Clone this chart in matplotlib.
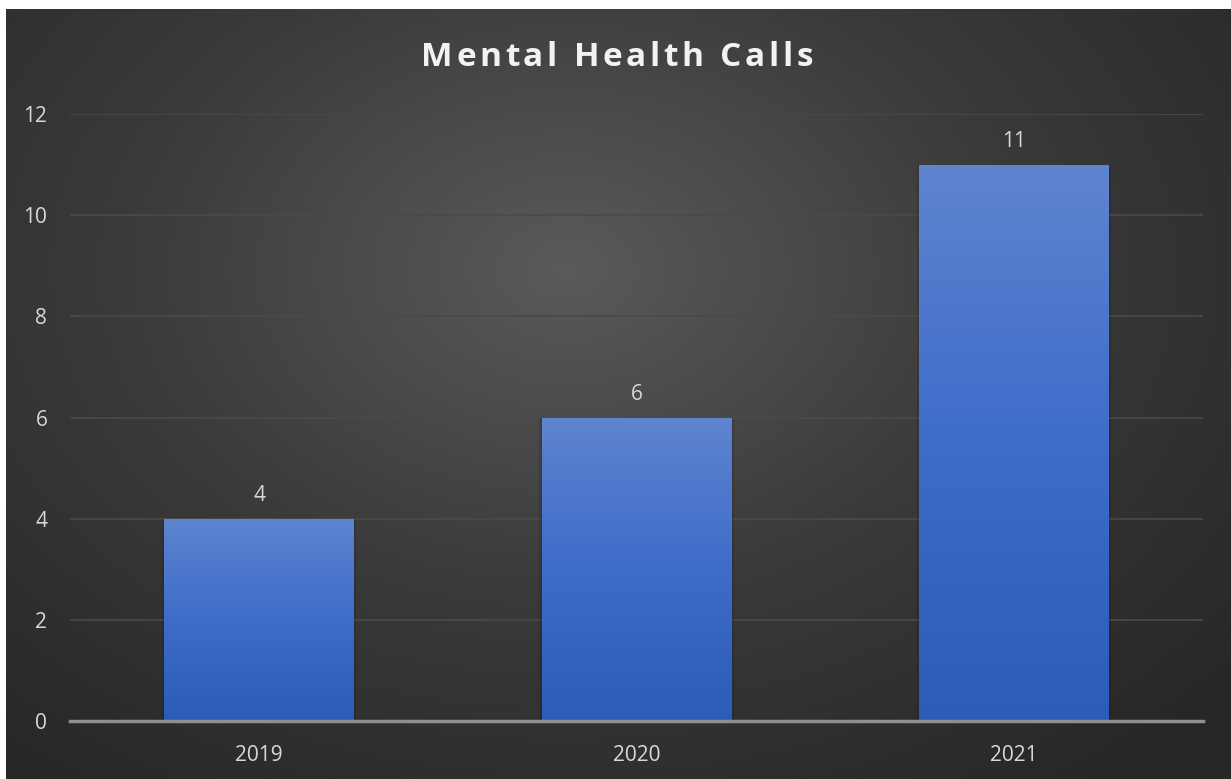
import numpy as np
import matplotlib.pyplot as plt
from matplotlib.colors import LinearSegmentedColormap

years = ["2019", "2020", "2021"]
calls = [4, 6, 11]
y_ticks = [0, 2, 4, 6, 8, 10, 12]
title = "Mental Health Calls"

W, H = 1231, 779
fig = plt.figure(figsize=(W / 100, H / 100), dpi=100, facecolor="white")

# dark radial background of the chart area
bg = fig.add_axes([6 / W, 0, (W - 6) / W, (H - 9) / H])
bg.set_axis_off()
yy, xx = np.mgrid[0:770, 0:1225]
r = np.sqrt(((xx - 560) / 900) ** 2 + ((yy - 260) / 650) ** 2)
bg_cmap = LinearSegmentedColormap.from_list("bg", ["#5a5a5a", "#3a3a3a", "#262626"])
bg.imshow(np.clip(r, 0, 1), cmap=bg_cmap, vmin=0, vmax=1, aspect="auto",
          extent=[0, 1, 0, 1], origin="upper")
bg.set_xlim(0, 1)
bg.set_ylim(0, 1)

ax = fig.add_axes([70.25 / W, (H - 721) / H, (1202.75 - 70.25) / W, (721 - 114) / H])
ax.patch.set_alpha(0)

x = np.arange(len(years))
bars = ax.bar(x, calls, width=0.503, color="none", zorder=3)

bar_cmap = LinearSegmentedColormap.from_list("bar", ["#2b5cb8", "#3d6cc9", "#5f84d0"])
grad = np.linspace(0, 1, 256).reshape(-1, 1)
for b in bars:
    x0, y0 = b.get_x(), b.get_y()
    w, h = b.get_width(), b.get_height()
    # soft shadow
    ax.bar(x0 + w / 2, h, width=w + 0.012, color="black", alpha=0.12, zorder=2)
    im = ax.imshow(grad, cmap=bar_cmap, origin="lower", aspect="auto",
                   extent=[x0, x0 + w, y0, y0 + h], zorder=3)
    im.set_clip_path(b)
    ax.annotate(str(int(h)), (x0 + w / 2, h), xytext=(0, 9), textcoords="offset points",
                ha="center", va="bottom", color="#d9d9d9", fontsize=15, family="Open Sans")

ax.set_xlim(-0.5, len(years) - 0.5)
ax.set_ylim(0, 12)
ax.set_yticks(y_ticks)
ax.set_yticklabels([str(t) for t in y_ticks])
ax.set_xticks(x)
ax.set_xticklabels(years)
ax.tick_params(axis="both", length=0, colors="#d9d9d9", labelsize=15)
ax.tick_params(axis="y", pad=16.5)
ax.tick_params(axis="x", pad=17)
for lbl in ax.get_xticklabels() + ax.get_yticklabels():
    lbl.set_family("Open Sans")

ax.grid(axis="y", color="#4a4a4a", linewidth=1.2, zorder=1)
ax.set_axisbelow(True)
for s in ["top", "right", "left"]:
    ax.spines[s].set_visible(False)
ax.spines["bottom"].set_color("#8f8f8f")
ax.spines["bottom"].set_linewidth(2.5)
ax.spines["bottom"].set_zorder(4)

# title with letter spacing, placed char by char
renderer = fig.canvas.get_renderer()
tkw = dict(color="#f2f2f2", fontsize=24, fontweight="bold", family="Open Sans",
           va="center", ha="left")
tracking = 3.5
widths = []
for ch in title:
    t = fig.text(0, 0, ch if ch != " " else "n", **tkw)
    wpx = t.get_window_extent(renderer).width
    if ch == " ":
        wpx *= 0.45
    widths.append(wpx)
    t.remove()
total = sum(widths) + tracking * (len(title) - 1)
xpos = 617 - total / 2
for ch, wpx in zip(title, widths):
    if ch != " ":
        fig.text(xpos / W, 1 - 58 / H, ch, **tkw)
    xpos += wpx + tracking

fig.savefig("out.png", dpi=100, facecolor="white")
